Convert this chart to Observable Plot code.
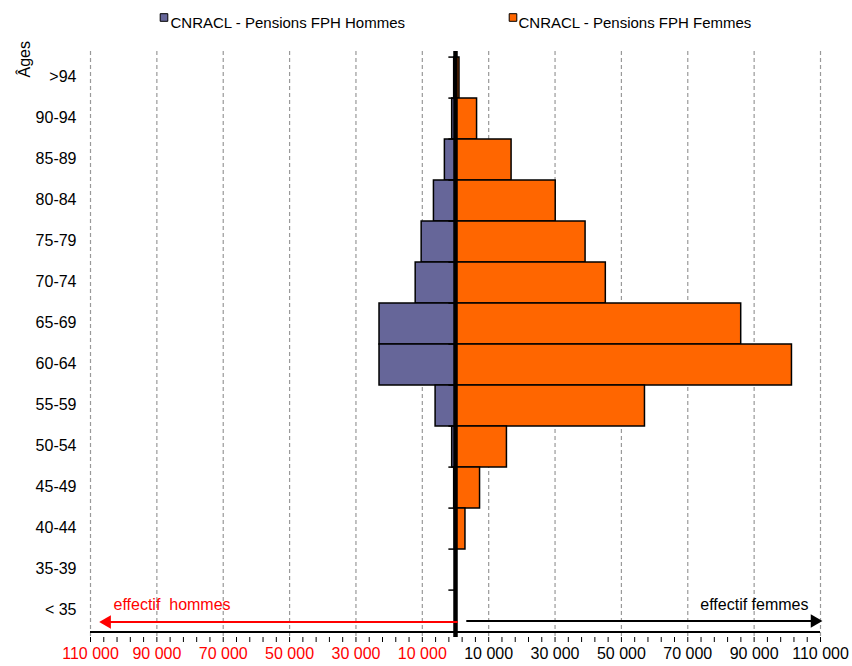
<!DOCTYPE html>
<html>
<head>
<meta charset="utf-8">
<script src="https://cdn.jsdelivr.net/npm/d3@7"></script>
<script src="https://cdn.jsdelivr.net/npm/@observablehq/plot@0.6"></script>
<style>
  html, body { margin: 0; padding: 0; background: #fff; }
  #chart { width: 852px; height: 666px; }
</style>
</head>
<body>
<div id="chart"></div>
<script>
// Age groups, top to bottom
const ages = [">94","90-94","85-89","80-84","75-79","70-74","65-69","60-64","55-59","50-54","45-49","40-44","35-39","< 35"];
// CNRACL - Pensions FPH Hommes (headcount)
const hommes = [400, 1000, 3200, 6500, 10200, 12000, 22900, 22900, 6000, 1000, 400, 200, 50, 0];
// CNRACL - Pensions FPH Femmes (headcount)
const femmes = [1200, 6500, 16900, 30200, 39200, 45300, 86100, 101400, 57100, 15500, 7400, 3000, 300, 100];
// Axis ticks
const majorTicks = [-110000,-90000,-70000,-50000,-30000,-10000,10000,30000,50000,70000,90000,110000];
const minorTicks = d3.range(-110000, 110001, 4000);
const seriesNames = ["CNRACL - Pensions FPH Hommes", "CNRACL - Pensions FPH Femmes"];
const colors = ["#666699", "#FF6600"];

const rowsH = ages.map((a, i) => ({age: a, value: -hommes[i]}));
const rowsF = ages.map((a, i) => ({age: a, value: femmes[i]}));
const fmt = v => d3.format(",")(Math.abs(v)).replace(/,/g, " ");
const font = "'Liberation Sans', Arial, sans-serif";

const chart = Plot.plot({
  width: 852,
  height: 666,
  marginTop: 51,
  marginBottom: 29,
  marginLeft: 90,
  marginRight: 32,
  style: {fontFamily: font, background: "#fff", overflow: "visible"},
  x: {domain: [-110000, 110000], label: null},
  y: {domain: ages, padding: 0, axis: null, label: null},
  marks: [
    Plot.gridX(majorTicks, {stroke: "#999", strokeOpacity: 1, strokeWidth: 1.2, strokeDasharray: "4,3"}),
    Plot.barX(rowsH, {x: "value", y: "age", fill: colors[0], stroke: "#000", strokeWidth: 1.5}),
    Plot.barX(rowsF, {x: "value", y: "age", fill: colors[1], stroke: "#000", strokeWidth: 1.5}),
    // central vertical axis
    Plot.ruleX([0], {stroke: "#000", strokeWidth: 4.5}),
    Plot.ruleY(ages, {y: d => d, x1: -2000, x2: 0, dy: -20.9, stroke: "#000", strokeWidth: 1.5}),
    // bottom axis line
    Plot.ruleY([ages[ages.length - 1]], {y: d => d, x1: -110000, x2: 110000, dy: 20.9, stroke: "#000", strokeWidth: 2}),
    Plot.axisX(minorTicks, {anchor: "bottom", tickSize: 5, tickFormat: () => "", label: null, stroke: "#000", strokeWidth: 1}),
    Plot.text(majorTicks.filter(d => d < 0), {x: d => d, text: fmt, frameAnchor: "bottom", dy: 21, fill: "#FF0000", fontSize: 16}),
    Plot.text(majorTicks.filter(d => d > 0), {x: d => d, text: fmt, frameAnchor: "bottom", dy: 21, fill: "#000", fontSize: 16}),
    // age labels
    Plot.text(ages, {y: d => d, text: d => d, frameAnchor: "left", dx: -14, dy: -1, textAnchor: "end", fontSize: 16, fill: "#000"}),
    Plot.text(["Âges"], {frameAnchor: "top-left", dx: -72, dy: 26, rotate: -90, fontSize: 16, fill: "#000"}),
    // direction arrows
    Plot.ruleY([ages[ages.length - 1]], {y: d => d, x1: 800, x2: -106000, dy: 11, stroke: "#FF0000", strokeWidth: 2}),
    Plot.dot([-107300], {x: d => d, y: () => ages[ages.length - 1], dy: 11, dx: 7.5, symbol: "triangle", rotate: -90, r: 5, fill: "#FF0000", stroke: "none"}),
    Plot.ruleY([ages[ages.length - 1]], {y: d => d, x1: 3400, x2: 108500, dy: 10, stroke: "#000", strokeWidth: 2}),
    Plot.dot([110500], {x: d => d, y: () => ages[ages.length - 1], dy: 10, dx: -7.5, symbol: "triangle", rotate: 90, r: 5, fill: "#000", stroke: "none"}),
    Plot.text(["effectif  hommes"], {frameAnchor: "bottom-left", dx: 23, dy: -28, textAnchor: "start", fontSize: 16, fill: "#FF0000", style: "white-space: pre"}),
    Plot.text(["effectif femmes"], {frameAnchor: "bottom-right", dx: -12, dy: -28, textAnchor: "end", fontSize: 16, fill: "#000"}),
    // legend
    Plot.dot([0], {frameAnchor: "top-left", dx: 73.5, dy: -34, symbol: "square", r: 4.3, fill: colors[0], stroke: "#000", strokeWidth: 1}),
    Plot.text([seriesNames[0]], {frameAnchor: "top-left", dx: 80, dy: -34, textAnchor: "start", fontSize: 15, fill: "#000"}),
    Plot.dot([0], {frameAnchor: "top-left", dx: 422.5, dy: -34, symbol: "square", r: 4.3, fill: colors[1], stroke: "#000", strokeWidth: 1}),
    Plot.text([seriesNames[1]], {frameAnchor: "top-left", dx: 428, dy: -34, textAnchor: "start", fontSize: 15, fill: "#000"})
  ]
});
document.getElementById("chart").appendChild(chart);
</script>
</body>
</html>
